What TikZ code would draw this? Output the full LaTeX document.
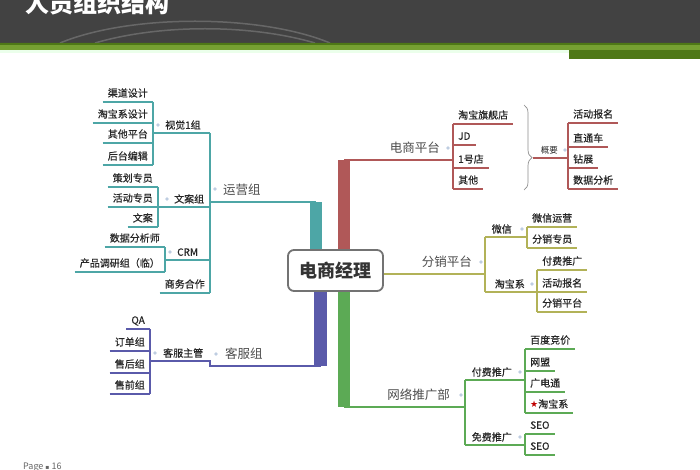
\documentclass[tikz,border=0pt]{standalone}
\usepackage{fontspec}
\newfontfamily\cjk{Noto Sans CJK SC}
\newfontfamily\cjkm{Noto Sans CJK SC}[FakeBold=0.5]
\newfontfamily\symb{DejaVu Sans}
\usetikzlibrary{decorations.pathreplacing,backgrounds}
\definecolor{yy}{RGB}{77,166,166}%运营组
\definecolor{ds}{RGB}{176,88,88}%电商平台
\definecolor{fx}{RGB}{178,178,88}%分销平台
\definecolor{kf}{RGB}{90,90,170}%客服组
\definecolor{wl}{RGB}{92,170,85}%网络推广部
\definecolor{hd}{RGB}{66,66,66}
\definecolor{gra}{RGB}{118,160,50}
\definecolor{grb}{RGB}{78,120,22}
\definecolor{dotc}{RGB}{190,205,225}
\newcommand\starmk{{\symb\fontsize{9}{10}\selectfont\textcolor{red!75!black}{★}}}
\begin{document}
\begin{tikzpicture}[x=1pt,y=-1pt,
    leaf/.style={inner xsep=5pt,inner ysep=0pt,text height=8.5pt,text depth=5pt,text=black!85,font=\cjkm\fontsize{10}{12}\selectfont},
    sub/.style={inner sep=0pt,text height=8pt,text depth=4pt,text=black!85,font=\cjkm\fontsize{10}{12}\selectfont},
    big/.style={inner sep=0pt,text height=10pt,text depth=7.5pt,text=black!70,font=\cjk\fontsize{12.5}{14}\selectfont},
    boss/.style={draw=black!55,line width=1.8pt,rounded corners=6pt,fill=white,minimum width=95pt,minimum height=41pt,inner sep=0pt,text=black!80,font=\cjk\bfseries\fontsize{18}{20}\selectfont},
    ul/.style={line width=2pt},
    br/.style={line width=2.5pt},
    trunk/.style={line width=12.5pt}]
    \useasboundingbox (0,0) rectangle (700,470);
    % header
    \fill[hd] (0,0) rectangle (700,43);
    \draw[white,opacity=0.2,line width=1.5pt] (60,43) .. controls (130,14) and (260,14) .. (330,43)
    (95,43) .. controls (160,24) and (250,24) .. (315,43);
    \fill[grb] (0,43) rectangle (700,45) (569,50) rectangle (700,59);
    \fill[gra] (0,45) rectangle (700,50);
    \fill[green!8] (0,50) rectangle (569,53);
    \node[anchor=west,inner sep=0pt,text=white,font=\cjk\bfseries\fontsize{24}{26}\selectfont] (title) at (25,3) {人员组织结构};
    \node[anchor=west,inner sep=0pt,text=black!60,font=\cjk\fontsize{9}{10}\selectfont] (page) at (23,467) {Page {\symb\fontsize{6}{6}\selectfont ▪} 16};
    % center
    \node[boss] (boss) at (335.5,270.5) {电商经理};
    \begin{scope}[on background layer]
        \coordinate (yyTop) at (316,202);
        \coordinate (dsTop) at (344,160);
        \coordinate (kfTop) at (320.5,366);
        \coordinate (wlTop) at (344,407);
        \draw[trunk,yy] (boss.north -| yyTop) -- (yyTop);
        \draw[trunk,ds] (boss.north -| dsTop) -- (dsTop);
        \draw[trunk,kf] (boss.south -| kfTop) -- (kfTop);
        \draw[trunk,wl] (boss.south -| wlTop) -- (wlTop);
    \end{scope}
    % leaves
    \foreach \a/\x/\y/\c/\t in {a1/153/102/yy/渠道设计,a2/153/123/yy/淘宝系设计,a3/153/143/yy/其他平台,a4/153/165/yy/后台编辑,
        b1/158/187/yy/策划专员,b2/158/207/yy/活动专员,b3/158/227/yy/文案,c1/165/247/yy/数据分析师,c2/165/272/yy/产品调研组（临）,
        sw/210/293/yy/商务合作,k1/150/329/kf/QA,k2/150/351/kf/订单组,k3/150/373/kf/售后组,k4/150/394/kf/售前组}
    {\node[leaf,anchor=south east] (\a) at (\x,\y) {\t};
        \draw[ul,\c] (\a.south west)--(\a.south east);}
    \foreach \a/\x/\y/\c/\t in {d1/453/124/ds/淘宝旗舰店,d2/453/145/ds/JD,d3/453/168/ds/1号店,d4/453/189/ds/其他,
        e1/568/123/ds/活动报名,e2/568/147/ds/直通车,e3/568/168/ds/钻展,e4/568/189/ds/数据分析,
        f1/527/227/fx/微信运营,f2/527/248/fx/分销专员,g1/537/270/fx/付费推广,g2/537/292/fx/活动报名,g3/537/312/fx/分销平台,
        h1/525/349/wl/百度竞价,h2/525/371/wl/网盟,h3/525/392/wl/广电通,h4/525/413/wl/{\starmk}淘宝系,s1/525/434/wl/SEO,s2/525/455/wl/SEO}
    {\node[leaf,anchor=south west] (\a) at (\x,\y) {\t};
        \draw[ul,\c] (\a.south west)--(\a.south east);}
    \foreach \p/\q/\c in {a1/a4/yy,b1/b3/yy,c1/c2/yy,k1/k4/kf} \draw[ul,\c] (\p.south east)--(\q.south east);
    \foreach \p/\q/\c in {d1/d4/ds,e1/e4/ds,f1/f2/fx,g1/g3/fx,h1/h4/wl,s1/s2/wl} \draw[ul,\c] (\p.south west)--(\q.south west);
    % labels
    \foreach \a/\x/\y/\t in {v1/165/133/视觉1组,wa/174/207/文案组,crm/177/260/CRM,kz/163/361/客服主管}
    \node[sub,anchor=south west] (\a) at (\x,\y) {\t};
    \foreach \a/\x/\y/\t in {wx/512/237/微信,tb/525/292/淘宝系,ff/512/380/付费推广,mf/512/445/免费推广}
    \node[sub,anchor=south east] (\a) at (\x,\y) {\t};
    \node[sub,anchor=south east,font=\cjk\fontsize{8.5}{10}\selectfont] (gy) at (558,158) {概要};
    \foreach \a/\x/\y/\t in {yyl/223/202/运营组,kfl/225/366/客服组}
    \node[big,anchor=south west] (\a) at (\x,\y) {\t};
    \foreach \a/\x/\y/\t in {dsl/440/160/电商平台,fxl/472/274/分销平台,wll/450/407/网络推广部}
    \node[big,anchor=south east] (\a) at (\x,\y) {\t};
    \foreach \x/\y in {158/125,167/199,170/252,215/189,155/353,216/354,448/148,565/150,481/262,522/229,532/284,461/395,520/372,520/437}
    \fill[dotc] (\x,\y) circle (1.8pt);
    % 运营组, 客服组
    \coordinate (yyBus) at (210,133);
    \draw[br,yy] (yyTop) -- (yyTop -| yyBus);
    \draw[ul,yy] (yyBus) -- (sw.south east);
    \draw[br,yy] (a1.south east |- v1.south) -- (v1.south -| yyBus);
    \draw[br,yy] (b2.south east) -- (wa.south -| yyBus);
    \draw[br,yy] (c1.south east |- crm.south) -- (crm.south -| yyBus);
    \draw[br,kf] (kfTop) -| (kz.south -| yyBus) -- (k1.south east |- kz.south);
    % 电商平台
    \draw[br,ds] (dsTop) -- (dsTop -| d1.south west);
    \draw[decorate,decoration={brace,amplitude=8pt,aspect=0.62},black!45,line width=0.7pt] (524,105) -- (524,190);
    \coordinate (gyTip) at (533,158);
    \draw[br,ds] (gyTip) -- (gyTip -| e1.south west);
    % 分销平台
    \coordinate (fxBus) at (485,274);
    \draw[br,fx] (boss.east |- fxBus) -- (fxBus);
    \draw[ul,fx] (fxBus |- wx.south) -- (fxBus |- tb.south);
    \draw[br,fx] (fxBus |- wx.south) -- (f1.south west |- wx.south);
    \draw[br,fx] (fxBus |- tb.south) -- (g2.south west);
    % 网络推广部
    \coordinate (wlBus) at (465,407);
    \draw[br,wl] (wlTop) -- (wlBus);
    \draw[ul,wl] (wlBus |- ff.south) -- (wlBus |- mf.south);
    \draw[br,wl] (wlBus |- ff.south) -- (h1.south west |- ff.south);
    \draw[br,wl] (wlBus |- mf.south) -- (s1.south west |- mf.south);
\end{tikzpicture}
\end{document}
